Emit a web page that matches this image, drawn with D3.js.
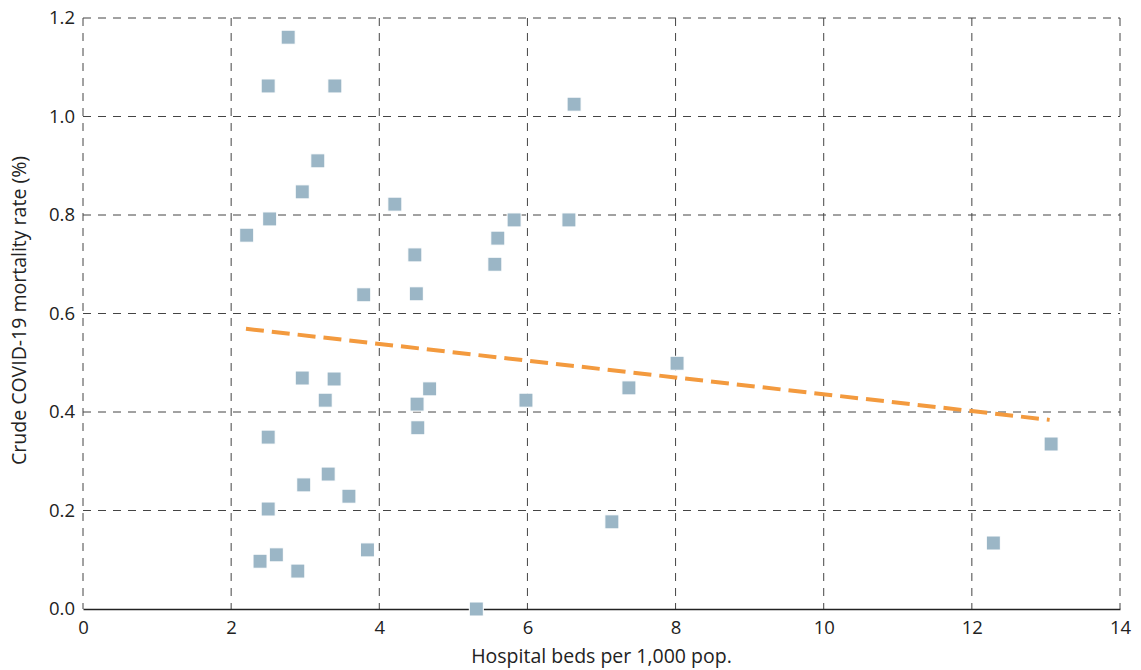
<!DOCTYPE html>
<html>
<head>
<meta charset="utf-8">
<script src="https://cdn.jsdelivr.net/npm/d3@7"></script>
<style>
  body { margin: 0; background: #fff; }
  text { font-family: "Open Sans", "Noto Sans", sans-serif; fill: #222; }
</style>
</head>
<body>
<div id="chart"></div>
<script>
// Hospital beds vs crude mortality
const beds = [2.77, 2.50, 3.40, 6.63, 3.17, 2.96, 4.21, 2.52, 2.21, 5.82,
              6.56, 5.60, 4.48, 5.56, 3.79, 4.50, 8.02, 7.37, 2.96, 3.39,
              4.68, 3.27, 5.98, 4.51, 4.52, 2.50, 13.07, 3.31, 2.98, 3.59,
              2.50, 7.14, 3.84, 12.29, 2.61, 2.39, 2.90, 5.31];
const mortality = [1.161, 1.062, 1.062, 1.025, 0.910, 0.847, 0.822, 0.792, 0.759, 0.790,
                   0.790, 0.753, 0.719, 0.700, 0.638, 0.640, 0.499, 0.449, 0.469, 0.467,
                   0.447, 0.424, 0.424, 0.416, 0.368, 0.349, 0.335, 0.274, 0.252, 0.229,
                   0.203, 0.177, 0.120, 0.134, 0.110, 0.097, 0.077, 0.0];
const trendX = [2.2, 13.05];
const trendY = [0.569, 0.384];
const xTicks = [0, 2, 4, 6, 8, 10, 12, 14];
const yTicks = [0, 0.2, 0.4, 0.6, 0.8, 1.0, 1.2];

const W = 1141, H = 670;
const margin = { top: 18, right: 21, bottom: 61, left: 83 };
const width = W - margin.left - margin.right;
const height = H - margin.top - margin.bottom;

const svg = d3.select('#chart').append('svg')
    .attr('width', W)
    .attr('height', H)
    .append('g')
    .attr('transform', `translate(${margin.left},${margin.top})`);

const x = d3.scaleLinear().domain([0, 14]).range([0, width]);
const y = d3.scaleLinear().domain([0, 1.2]).range([height, 0]);

// Grid lines (dashed)
svg.append('g')
    .selectAll('line.vgrid')
    .data(xTicks)
    .enter().append('line')
    .attr('x1', d => x(d)).attr('x2', d => x(d))
    .attr('y1', 0).attr('y2', height)
    .attr('stroke', '#444')
    .attr('stroke-width', 1)
    .attr('stroke-dasharray', '8,7');

svg.append('g')
    .selectAll('line.hgrid')
    .data(yTicks.filter(d => d > 0))
    .enter().append('line')
    .attr('x1', 0).attr('x2', width)
    .attr('y1', d => y(d)).attr('y2', d => y(d))
    .attr('stroke', '#444')
    .attr('stroke-width', 1)
    .attr('stroke-dasharray', '8,7');

// Axes
const xAxis = svg.append('g')
    .attr('transform', `translate(0,${height})`)
    .call(d3.axisBottom(x).tickValues(xTicks).tickSize(0).tickPadding(12).tickFormat(d3.format('d')));
xAxis.select('.domain').attr('stroke', '#222').attr('stroke-width', 1.3);
xAxis.selectAll('text').style('font-size', '18.5px').attr('fill', '#222');

const yAxis = svg.append('g')
    .call(d3.axisLeft(y).tickValues(yTicks).tickSize(0).tickPadding(8).tickFormat(d3.format('.1f')));
yAxis.select('.domain').remove();
yAxis.selectAll('text').style('font-size', '18.5px').attr('fill', '#222');

// Axis titles
svg.append('text')
    .attr('x', width / 2)
    .attr('y', height + 54)
    .attr('text-anchor', 'middle')
    .style('font-size', '19.5px')
    .text('Hospital beds per 1,000 pop.');

svg.append('text')
    .attr('transform', 'rotate(-90)')
    .attr('x', -height / 2 + 3)
    .attr('y', -57)
    .attr('text-anchor', 'middle')
    .style('font-size', '19.5px')
    .text('Crude COVID-19 mortality rate (%)');

// Points
const pts = beds.map((b, i) => ({ b, m: mortality[i] }));
const s = 14;
svg.selectAll('.pt')
    .data(pts)
    .enter().append('rect')
    .attr('class', 'pt')
    .attr('x', d => x(d.b) - s / 2)
    .attr('y', d => y(d.m) - s / 2)
    .attr('width', s)
    .attr('height', s)
    .attr('fill', '#9bb6c6')
    .attr('stroke', '#fff')
    .attr('stroke-width', 1);

// Trend line
const line = d3.line().x(d => x(d[0])).y(d => y(d[1]));
svg.append('path')
    .datum(trendX.map((t, i) => [t, trendY[i]]))
    .attr('fill', 'none')
    .attr('stroke', '#f39a3e')
    .attr('stroke-width', 4)
    .attr('stroke-dasharray', '18,8')
    .attr('d', line);
</script>
</body>
</html>
